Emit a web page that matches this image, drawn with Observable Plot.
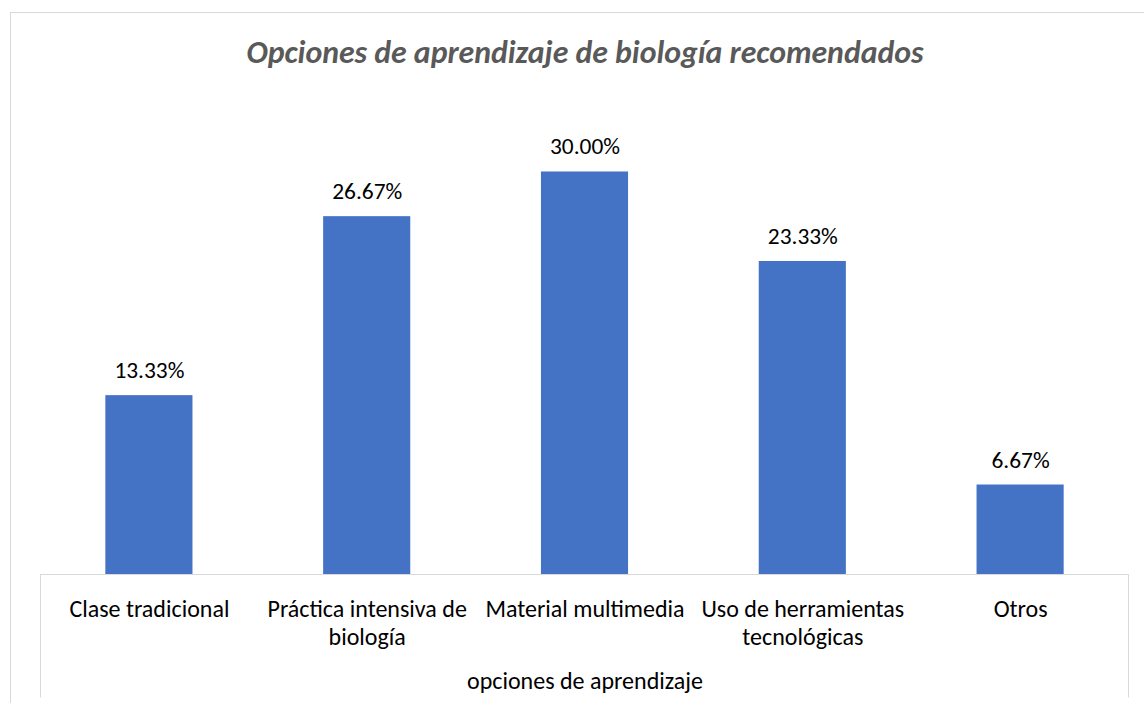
<!DOCTYPE html>
<html><head><meta charset="utf-8">
<script src="https://cdn.jsdelivr.net/npm/d3@7"></script>
<script src="https://cdn.jsdelivr.net/npm/@observablehq/plot@0.6"></script>
<style>
  html, body { margin:0; padding:0; background:#fff; overflow:hidden; }
  #wrap { position:relative; width:1144px; height:703px; overflow:hidden; }
  #border { position:absolute; left:10px; top:12px; width:1300px; height:900px; border:1px solid #d9d9d9; box-sizing:border-box; }
  #chart { position:absolute; left:0; top:0; }
</style>
</head><body>
<div id="wrap"><div id="border"></div><div id="chart"></div></div>
<script>
const title = "Opciones de aprendizaje de biología recomendados";
const axisTitle = "opciones de aprendizaje";
const categories = ["Clase tradicional", "Práctica intensiva de biología", "Material multimedia", "Uso de herramientas tecnológicas", "Otros"];
const tickLabels = ["Clase tradicional", "Práctica intensiva de\nbiología", "Material multimedia", "Uso de herramientas\ntecnológicas", "Otros"];
const values = [0.1333, 0.2667, 0.3000, 0.2333, 0.0667];

const data = categories.map((c, i) => ({cat: c, value: values[i]}));
const pct = d3.format(".2%");
const FONT = "Carlito, Calibri, Lato, sans-serif";

// decorative box around the category axis (sides hang below the axis line)
const axisBox = (index, scales, values, dim) => {
  const g = d3.create("svg:g").attr("stroke", "#d9d9d9").attr("stroke-width", 1).attr("fill", "none");
  const x0 = dim.marginLeft + 0.5, x1 = dim.width - dim.marginRight - 0.5;
  const yb = dim.height - dim.marginBottom + 0.5;
  g.append("line").attr("x1", x0).attr("x2", x0).attr("y1", yb).attr("y2", yb + 123);
  g.append("line").attr("x1", x1).attr("x2", x1).attr("y1", yb).attr("y2", yb + 123);
  return g.node();
};

const chart = Plot.plot({
  width: 1144,
  height: 703,
  marginLeft: 40,
  marginRight: 15,
  marginTop: 104.4,
  marginBottom: 129,
  style: {fontFamily: FONT, background: "transparent", color: "#000", overflow: "visible"},
  x: {domain: categories, paddingInner: 0.6, paddingOuter: 0.3, round: false, axis: null},
  y: {domain: [0, 0.35], axis: null},
  marks: [
    Plot.barY(data, {x: "cat", y: "value", fill: "#4472C4"}),
    Plot.ruleY([0], {stroke: "#d9d9d9", strokeWidth: 1}),
    axisBox,
    Plot.axisX({
      tickSize: 0,
      tickPadding: 22.3,
      fontSize: 24,
      lineHeight: 1.18,
      fill: "#000",
      tickFormat: (d) => tickLabels[categories.indexOf(d)],
      label: null
    }),
    Plot.text(data, {
      x: "cat", y: "value", text: (d) => pct(d.value),
      dy: -17.5, lineAnchor: "bottom", fontSize: 23.4, fill: "#000"
    }),
    Plot.text([axisTitle], {
      frameAnchor: "bottom", dy: 114, lineAnchor: "bottom", fontSize: 24, fill: "#000"
    }),
    Plot.text([title], {
      frameAnchor: "top", dy: -41.7, lineAnchor: "bottom", fontSize: 31.8,
      fontWeight: "bold", fontStyle: "italic", fill: "#595959"
    })
  ]
});
document.getElementById("chart").appendChild(chart);
</script></body></html>
